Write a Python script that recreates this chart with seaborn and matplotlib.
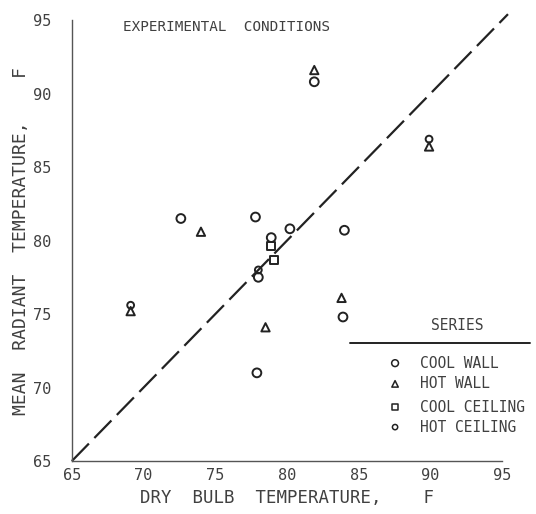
import matplotlib
matplotlib.use("Agg")
import matplotlib.pyplot as plt
import seaborn as sns
import pandas as pd

cool_wall_x = [72.6, 77.8, 81.9, 84.0, 83.9, 77.9, 80.2, 78.0, 78.9]
cool_wall_y = [81.5, 81.6, 90.8, 80.7, 74.8, 71.0, 80.8, 77.5, 80.2]
hot_wall_x = [74.0, 81.9, 83.8, 78.5, 89.9, 69.1]
hot_wall_y = [80.6, 91.6, 76.1, 74.1, 86.4, 75.2]
cool_ceiling_x = [78.9, 79.1]
cool_ceiling_y = [79.6, 78.7]
hot_ceiling_x = [89.9, 69.1, 78.0]
hot_ceiling_y = [86.9, 75.6, 78.0]

series_names = ["COOL WALL", "HOT WALL", "COOL CEILING", "HOT CEILING"]
series_markers = ["o", "^", "s", "o"]
series_sizes = [40, 36, 34, 24]
ticks = [65, 70, 75, 80, 85, 90, 95]

frames = []
for name, xs, ys in zip(series_names,
                        [cool_wall_x, hot_wall_x, cool_ceiling_x, hot_ceiling_x],
                        [cool_wall_y, hot_wall_y, cool_ceiling_y, hot_ceiling_y]):
    frames.append(pd.DataFrame({"dry": xs, "mrt": ys, "series": name}))
df = pd.concat(frames, ignore_index=True)

sns.set_style("white")
plt.rcParams["font.family"] = ["DejaVu Sans Mono"]
ink = "#404040"

fig = plt.figure(figsize=(5.36, 5.14), dpi=100)
ax = fig.add_axes([0.134, 0.103, 0.803, 0.858])

# 1:1 reference line
ax.plot([65, 95.4], [65, 95.4], color="#222222", lw=1.6,
        dashes=(11, 3.5), clip_on=False, zorder=1)

for name, mk, sz in zip(series_names, series_markers, series_sizes):
    sub = df[df["series"] == name]
    sns.scatterplot(data=sub, x="dry", y="mrt", ax=ax, marker=mk, s=sz,
                    facecolors="none", edgecolors="#222222", linewidths=1.4,
                    legend=False, zorder=3)

ax.set_xlim(65, 95)
ax.set_ylim(65, 95)
ax.set_xticks(ticks)
ax.set_yticks(ticks)
ax.tick_params(axis="x", direction="in", length=3, colors=ink, labelsize=11, pad=5)
ax.tick_params(axis="y", direction="out", length=3, colors=ink, labelsize=11, pad=12)
for s in ["top", "right"]:
    ax.spines[s].set_visible(False)
for s in ["left", "bottom"]:
    ax.spines[s].set_color("#555555")
    ax.spines[s].set_linewidth(1.0)

ax.set_xlabel("DRY  BULB  TEMPERATURE,    F", color=ink, fontsize=12.5, labelpad=4)
ax.set_ylabel("MEAN  RADIANT  TEMPERATURE,    F", color=ink, fontsize=13, labelpad=2)

ax.text(0.119, 0.984, "EXPERIMENTAL  CONDITIONS", transform=ax.transAxes,
        fontsize=10.3, color=ink, va="center", ha="left")

# hand drawn legend box
ax.text(0.895, 0.308, "SERIES", transform=ax.transAxes, fontsize=10.5,
        color=ink, ha="center", va="center")
ax.plot([0.647, 1.065], [0.268, 0.268], transform=ax.transAxes,
        color="#222222", lw=1.4, clip_on=False)
rows_y = [0.222, 0.175, 0.122, 0.077]
for name, mk, sz, ry in zip(series_names, series_markers, series_sizes, rows_y):
    ax.scatter([0.751], [ry], transform=ax.transAxes, marker=mk, s=sz * 0.6,
               facecolors="none", edgecolors="#222222", linewidths=1.1,
               clip_on=False)
    ax.text(0.809, ry, name, transform=ax.transAxes, fontsize=10.5,
            color=ink, ha="left", va="center")

fig.savefig("out.png", dpi=100, facecolor="white")
